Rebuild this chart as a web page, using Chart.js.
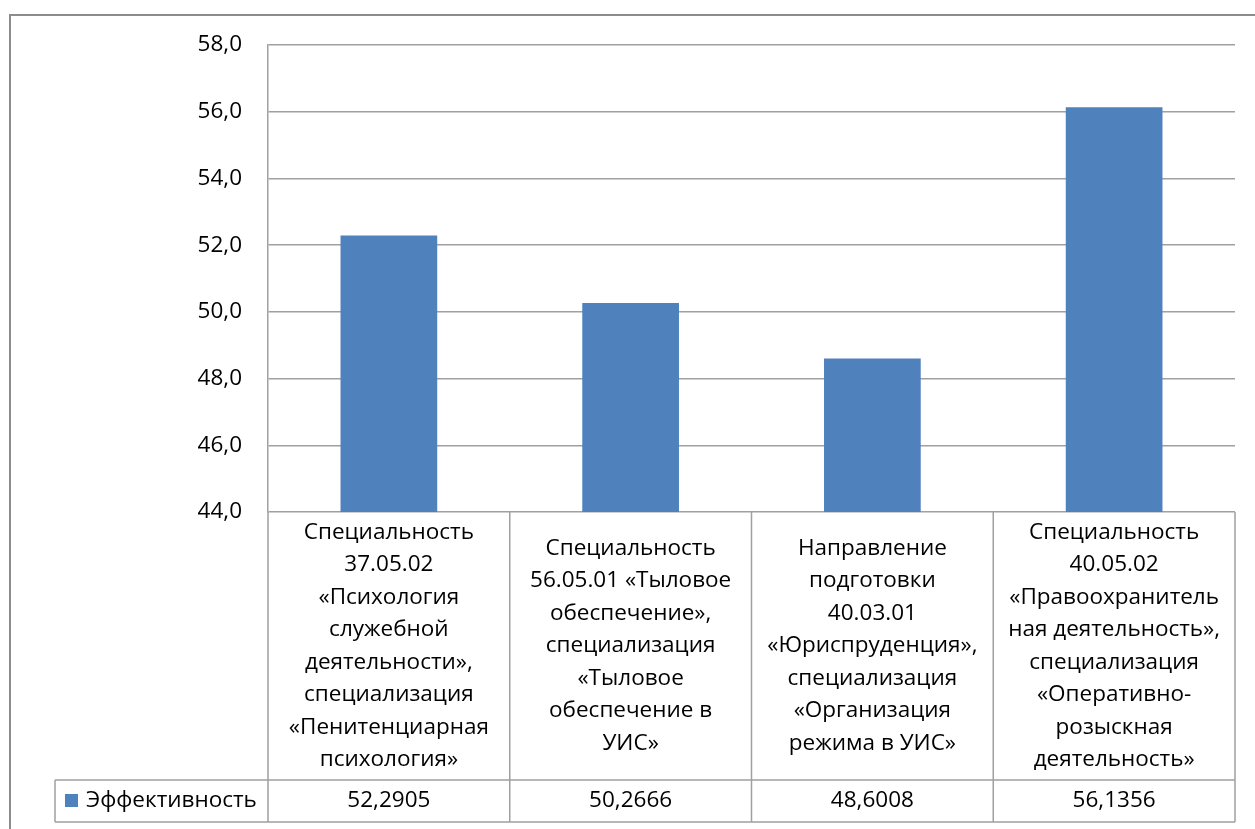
<!DOCTYPE html>
<html>
<head>
<meta charset="utf-8">
<script src="https://cdn.jsdelivr.net/npm/chart.js@4/dist/chart.umd.min.js"></script>
<style>
  html, body { margin: 0; padding: 0; background: #fff; }
  #wrap { width: 1255px; height: 829px; position: relative; }
</style>
</head>
<body>
<div id="wrap"><canvas id="chart"></canvas></div>
<script>
// data
const seriesName = "Эффективность";
const categories = [
  ["Специальность", "37.05.02", "«Психология", "служебной", "деятельности»,", "специализация", "«Пенитенциарная", "психология»"],
  ["Специальность", "56.05.01 «Тыловое", "обеспечение»,", "специализация", "«Тыловое", "обеспечение в", "УИС»"],
  ["Направление", "подготовки", "40.03.01", "«Юриспруденция»,", "специализация", "«Организация", "режима в УИС»"],
  ["Специальность", "40.05.02", "«Правоохранитель", "ная деятельность»,", "специализация", "«Оперативно-", "розыскная", "деятельность»"]
];
const values = [52.2905, 50.2666, 48.6008, 56.1356];
const valueLabels = ["52,2905", "50,2666", "48,6008", "56,1356"];
const yMin = 44, yMax = 58, yStep = 2;

const FONT = "'Open Sans', 'Noto Sans', sans-serif";
const FSIZE = 22.5;
const BAR = "#4F81BD";
const LINE = "#a0a0a0";

// ============================
// outer frame + data table under the plot
const tablePlugin = {
  id: "dataTable",
  beforeDraw(chart) {
    const ctx = chart.ctx;
    ctx.save();
    ctx.strokeStyle = "#8c8c8c";
    ctx.lineWidth = 2;
    ctx.strokeRect(10, 15, 1400, 1000);
    ctx.restore();
  },
  afterDraw(chart) {
    const ctx = chart.ctx;
    const area = chart.chartArea;
    const x = chart.scales.x;
    const n = categories.length;
    const colW = (area.right - area.left) / n;
    const rowTop = area.bottom;
    const rowMid = 780;
    const rowBot = 822;
    const legendLeft = 55;

    ctx.save();
    ctx.strokeStyle = LINE;
    ctx.lineWidth = 1.5;
    ctx.beginPath();
    // verticals
    for (let i = 0; i <= n; i++) {
      const xx = area.left + i * colW;
      ctx.moveTo(xx, rowTop);
      ctx.lineTo(xx, rowBot);
    }
    ctx.moveTo(legendLeft, rowMid);
    ctx.lineTo(legendLeft, rowBot);
    // horizontals
    ctx.moveTo(legendLeft, rowMid);
    ctx.lineTo(area.right, rowMid);
    ctx.moveTo(legendLeft, rowBot);
    ctx.lineTo(area.right, rowBot);
    ctx.stroke();

    ctx.fillStyle = "#000";
    ctx.font = FSIZE + "px " + FONT;
    ctx.textAlign = "center";
    ctx.textBaseline = "middle";
    const lh = 32.5;
    const cellMid = (rowTop + rowMid) / 2;
    categories.forEach((lines, i) => {
      const cx = x.getPixelForValue(i);
      const y0 = cellMid - (lines.length - 1) * lh / 2;
      lines.forEach((t, j) => ctx.fillText(t, cx, y0 + j * lh));
      ctx.fillText(valueLabels[i], cx, (rowMid + rowBot) / 2);
    });

    // legend key
    ctx.fillStyle = BAR;
    ctx.fillRect(65, 794, 13, 13);
    ctx.fillStyle = "#000";
    ctx.textAlign = "left";
    ctx.fillText(seriesName, 86, (rowMid + rowBot) / 2);
    ctx.restore();
  }
};

new Chart(document.getElementById("chart"), {
  type: "bar",
  data: {
    labels: categories.map(c => c.join(" ")),
    datasets: [{
      label: seriesName,
      data: values,
      backgroundColor: BAR,
      barPercentage: 0.4,
      categoryPercentage: 1
    }]
  },
  options: {
    responsive: true,
    maintainAspectRatio: false,
    animation: false,
    layout: { padding: { left: 0, right: 20, top: 45, bottom: 317 } },
    plugins: {
      legend: { display: false },
      tooltip: { enabled: false }
    },
    scales: {
      x: { display: false },
      y: {
        min: yMin,
        max: yMax,
        afterFit(scale) { scale.width = 268; },
        border: { display: true, color: LINE, width: 1.5 },
        grid: { color: LINE, lineWidth: 1.5, drawTicks: false },
        ticks: {
          stepSize: yStep,
          padding: 26,
          color: "#000",
          font: { family: FONT, size: FSIZE },
          callback: v => v.toFixed(1).replace(".", ",")
        }
      }
    }
  },
  plugins: [tablePlugin]
});
</script>
</body>
</html>
